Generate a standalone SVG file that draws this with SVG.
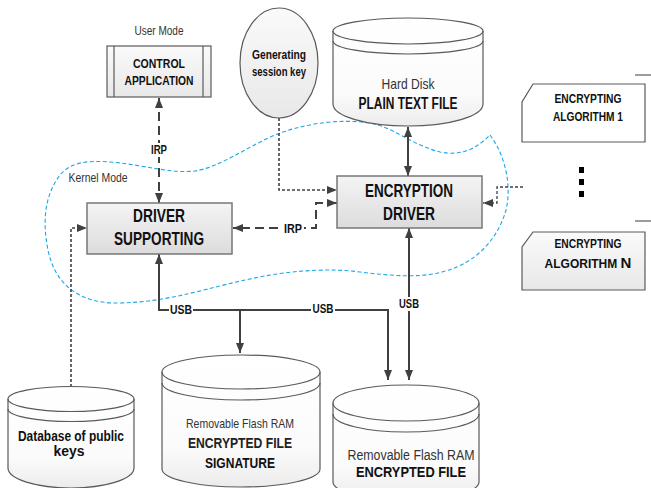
<svg xmlns="http://www.w3.org/2000/svg" width="651" height="488" viewBox="0 0 651 488">
  <defs>
    <linearGradient id="boxFill" x1="0" y1="0" x2="0" y2="1">
      <stop offset="0" stop-color="#f4f4f4"/>
      <stop offset="1" stop-color="#dcdcdc"/>
    </linearGradient>
    <linearGradient id="lightFill" x1="0" y1="0" x2="0" y2="1">
      <stop offset="0" stop-color="#fafafa"/>
      <stop offset="1" stop-color="#e8e8e8"/>
    </linearGradient>
    <linearGradient id="cylFill" x1="0" y1="0" x2="0" y2="1">
      <stop offset="0" stop-color="#ffffff"/>
      <stop offset="0.7" stop-color="#fbfbfb"/>
      <stop offset="1" stop-color="#ececec"/>
    </linearGradient>
    <marker id="arrow" viewBox="0 0 10 8" refX="10" refY="4" markerWidth="10" markerHeight="8" markerUnits="userSpaceOnUse" orient="auto-start-reverse">
      <path d="M0,0 L10,4 L0,8 Z" fill="#404040"/>
    </marker>
  </defs>
  <style>
    text { font-family: "Liberation Sans Narrow", "Liberation Sans", Arial, sans-serif; fill: #111; text-anchor: middle; }
    .b { font-weight: bold; }
    .reg { fill: #333; }
    .shape { stroke: #5a5a5a; stroke-width: 1.2; }
    .band { fill: none; stroke: #5a5a5a; stroke-width: 1.2; }
    .solid { fill: none; stroke: #404040; stroke-width: 2; }
    .dash { fill: none; stroke: #404040; stroke-width: 2; stroke-dasharray: 9 5; }
    .dot { fill: none; stroke: #404040; stroke-width: 1.6; stroke-dasharray: 3 2; }
    .lbl { fill: #ffffff; }
    .kernel { fill: none; stroke: #1aa7e8; stroke-width: 1.1; stroke-dasharray: 4 2.5; }
  </style>

  <!-- kernel-mode boundary -->
  <path class="kernel" d="M490,135 C505,155 512,185 506,210 C500,232 482,262 442,272 C420,278 392,276 360,272 C330,268 290,270 250,279 C210,287 170,302 120,303 C80,304 55,285 48,250 C42,220 45,195 60,175 C70,163 85,160 110,162 C140,164 170,174 195,171 C220,167 245,148 275,135 C300,125 335,118 370,123 C395,128 412,145 440,152 C460,156 475,150 490,135 Z"/>
  <text class="reg" x="98" y="182" font-size="12" textLength="59" lengthAdjust="spacingAndGlyphs">Kernel Mode</text>

  <!-- connectors -->
  <g id="connectors">
    <path class="dash" d="M159,98 V203" marker-start="url(#arrow)" marker-end="url(#arrow)"/>
    <path class="dash" d="M337,203 H316 V228 H233" marker-start="url(#arrow)" marker-end="url(#arrow)"/>
    <path class="solid" d="M408,127 V176" marker-start="url(#arrow)" marker-end="url(#arrow)"/>
    <path class="solid" d="M409,228 V380" marker-start="url(#arrow)" marker-end="url(#arrow)"/>
    <path class="solid" d="M159,254 V310 H388 V380" marker-start="url(#arrow)" marker-end="url(#arrow)"/>
    <path class="solid" d="M240,310 V353" marker-end="url(#arrow)"/>
    <path class="dot" d="M279,118 V190 H337" marker-end="url(#arrow)"/>
    <path class="dot" d="M71,387 V228 H87" marker-end="url(#arrow)"/>
    <path class="dot" d="M523,187 H497 V203 H483" marker-end="url(#arrow)" style="stroke-width:1.3"/>

    <rect class="lbl" x="149" y="143" width="20" height="14"/>
    <text class="b" x="159" y="154" font-size="12" textLength="16" lengthAdjust="spacingAndGlyphs">IRP</text>
    <rect class="lbl" x="282" y="222" width="22" height="14"/>
    <text class="b" x="293" y="233" font-size="12" textLength="18" lengthAdjust="spacingAndGlyphs">IRP</text>
    <rect class="lbl" x="169" y="303" width="24" height="14"/>
    <text class="b" x="181" y="314" font-size="12" textLength="22" lengthAdjust="spacingAndGlyphs">USB</text>
    <rect class="lbl" x="311" y="302" width="24" height="14"/>
    <text class="b" x="323" y="313" font-size="12" textLength="21" lengthAdjust="spacingAndGlyphs">USB</text>
    <rect class="lbl" x="398" y="297" width="22" height="14"/>
    <text class="b" x="409" y="308" font-size="12" textLength="20" lengthAdjust="spacingAndGlyphs">USB</text>
  </g>

  <!-- user-mode application -->
  <g id="control-application">
    <text class="reg" x="159" y="35" font-size="12" textLength="49" lengthAdjust="spacingAndGlyphs">User Mode</text>
    <rect class="shape" x="107" y="46" width="104" height="51" fill="url(#lightFill)"/>
    <line class="band" x1="114" y1="46" x2="114" y2="97"/>
    <line class="band" x1="203" y1="46" x2="203" y2="97"/>
    <text class="b" x="159" y="68" font-size="13" textLength="52" lengthAdjust="spacingAndGlyphs">CONTROL</text>
    <text class="b" x="159" y="85" font-size="13" textLength="69" lengthAdjust="spacingAndGlyphs">APPLICATION</text>
  </g>

  <g id="session-key">
    <ellipse class="shape" cx="279" cy="63" rx="39" ry="55" fill="url(#lightFill)"/>
    <text class="b" x="279" y="59" font-size="13" textLength="54" lengthAdjust="spacingAndGlyphs">Generating</text>
    <text class="b" x="279" y="76" font-size="13" textLength="54" lengthAdjust="spacingAndGlyphs">session key</text>
  </g>

  <g id="hard-disk">
    <path class="shape" fill="url(#cylFill)" d="M333,31 A75,13 0 0 1 483,31 V104 A75,22 0 0 1 333,104 Z"/>
    <path class="band" d="M333,31 A75,13 0 0 0 483,31"/>
    <path class="band" d="M333,41 A75,13 0 0 0 483,41"/>
    <text class="reg" x="408" y="89" font-size="15" textLength="53" lengthAdjust="spacingAndGlyphs">Hard Disk</text>
    <text class="b" x="408" y="109" font-size="16" textLength="99" lengthAdjust="spacingAndGlyphs">PLAIN TEXT FILE</text>
  </g>

  <g id="encryption-driver">
    <rect class="shape" x="337" y="176" width="145" height="52" fill="url(#boxFill)" style="stroke:#777;stroke-width:1.5"/>
    <text class="b" x="409" y="197" font-size="19" textLength="88" lengthAdjust="spacingAndGlyphs">ENCRYPTION</text>
    <text class="b" x="409" y="220" font-size="19" textLength="52" lengthAdjust="spacingAndGlyphs">DRIVER</text>
  </g>

  <g id="driver-supporting">
    <rect class="shape" x="87" y="203" width="145" height="51" fill="url(#boxFill)" style="stroke:#777;stroke-width:1.5"/>
    <text class="b" x="159" y="222" font-size="19" textLength="52" lengthAdjust="spacingAndGlyphs">DRIVER</text>
    <text class="b" x="159" y="245" font-size="19" textLength="90" lengthAdjust="spacingAndGlyphs">SUPPORTING</text>
  </g>

  <g id="algorithm-1">
    <line class="band" x1="635" y1="75" x2="651" y2="75"/>
    <path class="shape" fill="#ffffff" d="M533,84 H645 V142 H522 V102 Z"/>
    <text class="b" x="588" y="103" font-size="12" textLength="67" lengthAdjust="spacingAndGlyphs">ENCRYPTING</text>
    <text class="b" x="588" y="121" font-size="12" textLength="70" lengthAdjust="spacingAndGlyphs">ALGORITHM 1</text>
  </g>

  <g id="ellipsis">
    <rect x="579" y="167" width="5" height="6" fill="#000"/>
    <rect x="579" y="179" width="5" height="6" fill="#000"/>
    <rect x="579" y="191" width="5" height="6" fill="#000"/>
  </g>

  <g id="algorithm-n">
    <line class="band" x1="635" y1="221" x2="651" y2="221"/>
    <path class="shape" fill="url(#lightFill)" d="M533,232 H645 V290 H522 V247 Z"/>
    <text class="b" x="588" y="248" font-size="12" textLength="67" lengthAdjust="spacingAndGlyphs">ENCRYPTING</text>
    <text class="b" x="588" y="268" font-size="12"><tspan>ALGORITHM </tspan><tspan font-size="15">N</tspan></text>
  </g>

  <g id="public-keys-db">
    <path class="shape" fill="url(#cylFill)" d="M8,399 A63,12.5 0 0 1 134,399 V468 A63,20 0 0 1 8,468 Z"/>
    <path class="band" d="M8,399 A63,12.5 0 0 0 134,399"/>
    <path class="band" d="M8,409 A63,12.5 0 0 0 134,409"/>
    <text class="b" x="71" y="441" font-size="14" textLength="106" lengthAdjust="spacingAndGlyphs">Database of public</text>
    <text class="b" x="69" y="456" font-size="14" textLength="31" lengthAdjust="spacingAndGlyphs">keys</text>
  </g>

  <g id="flash-signature">
    <path class="shape" fill="url(#cylFill)" d="M162,372 A79,17 0 0 1 320,372 V469 A79,18 0 0 1 162,469 Z"/>
    <path class="band" d="M162,372 A79,17 0 0 0 320,372"/>
    <path class="band" d="M162,383 A79,17 0 0 0 320,383"/>
    <text class="reg" x="240" y="428" font-size="13" textLength="108" lengthAdjust="spacingAndGlyphs">Removable Flash RAM</text>
    <text class="b" x="240" y="448" font-size="15" textLength="104" lengthAdjust="spacingAndGlyphs" style="fill:#222">ENCRYPTED FILE</text>
    <text class="b" x="240" y="468" font-size="15" textLength="70" lengthAdjust="spacingAndGlyphs">SIGNATURE</text>
  </g>

  <g id="flash-encrypted">
    <path class="shape" fill="url(#cylFill)" d="M333,403 A73,18 0 0 1 479,403 V482 A73,18 0 0 1 333,482 Z"/>
    <path class="band" d="M333,403 A73,18 0 0 0 479,403"/>
    <path class="band" d="M333,414 A73,18 0 0 0 479,414"/>
    <text class="reg" x="411" y="460" font-size="14" textLength="127" lengthAdjust="spacingAndGlyphs">Removable Flash RAM</text>
    <text class="b" x="411" y="477" font-size="15" textLength="110" lengthAdjust="spacingAndGlyphs">ENCRYPTED FILE</text>
  </g>
</svg>
